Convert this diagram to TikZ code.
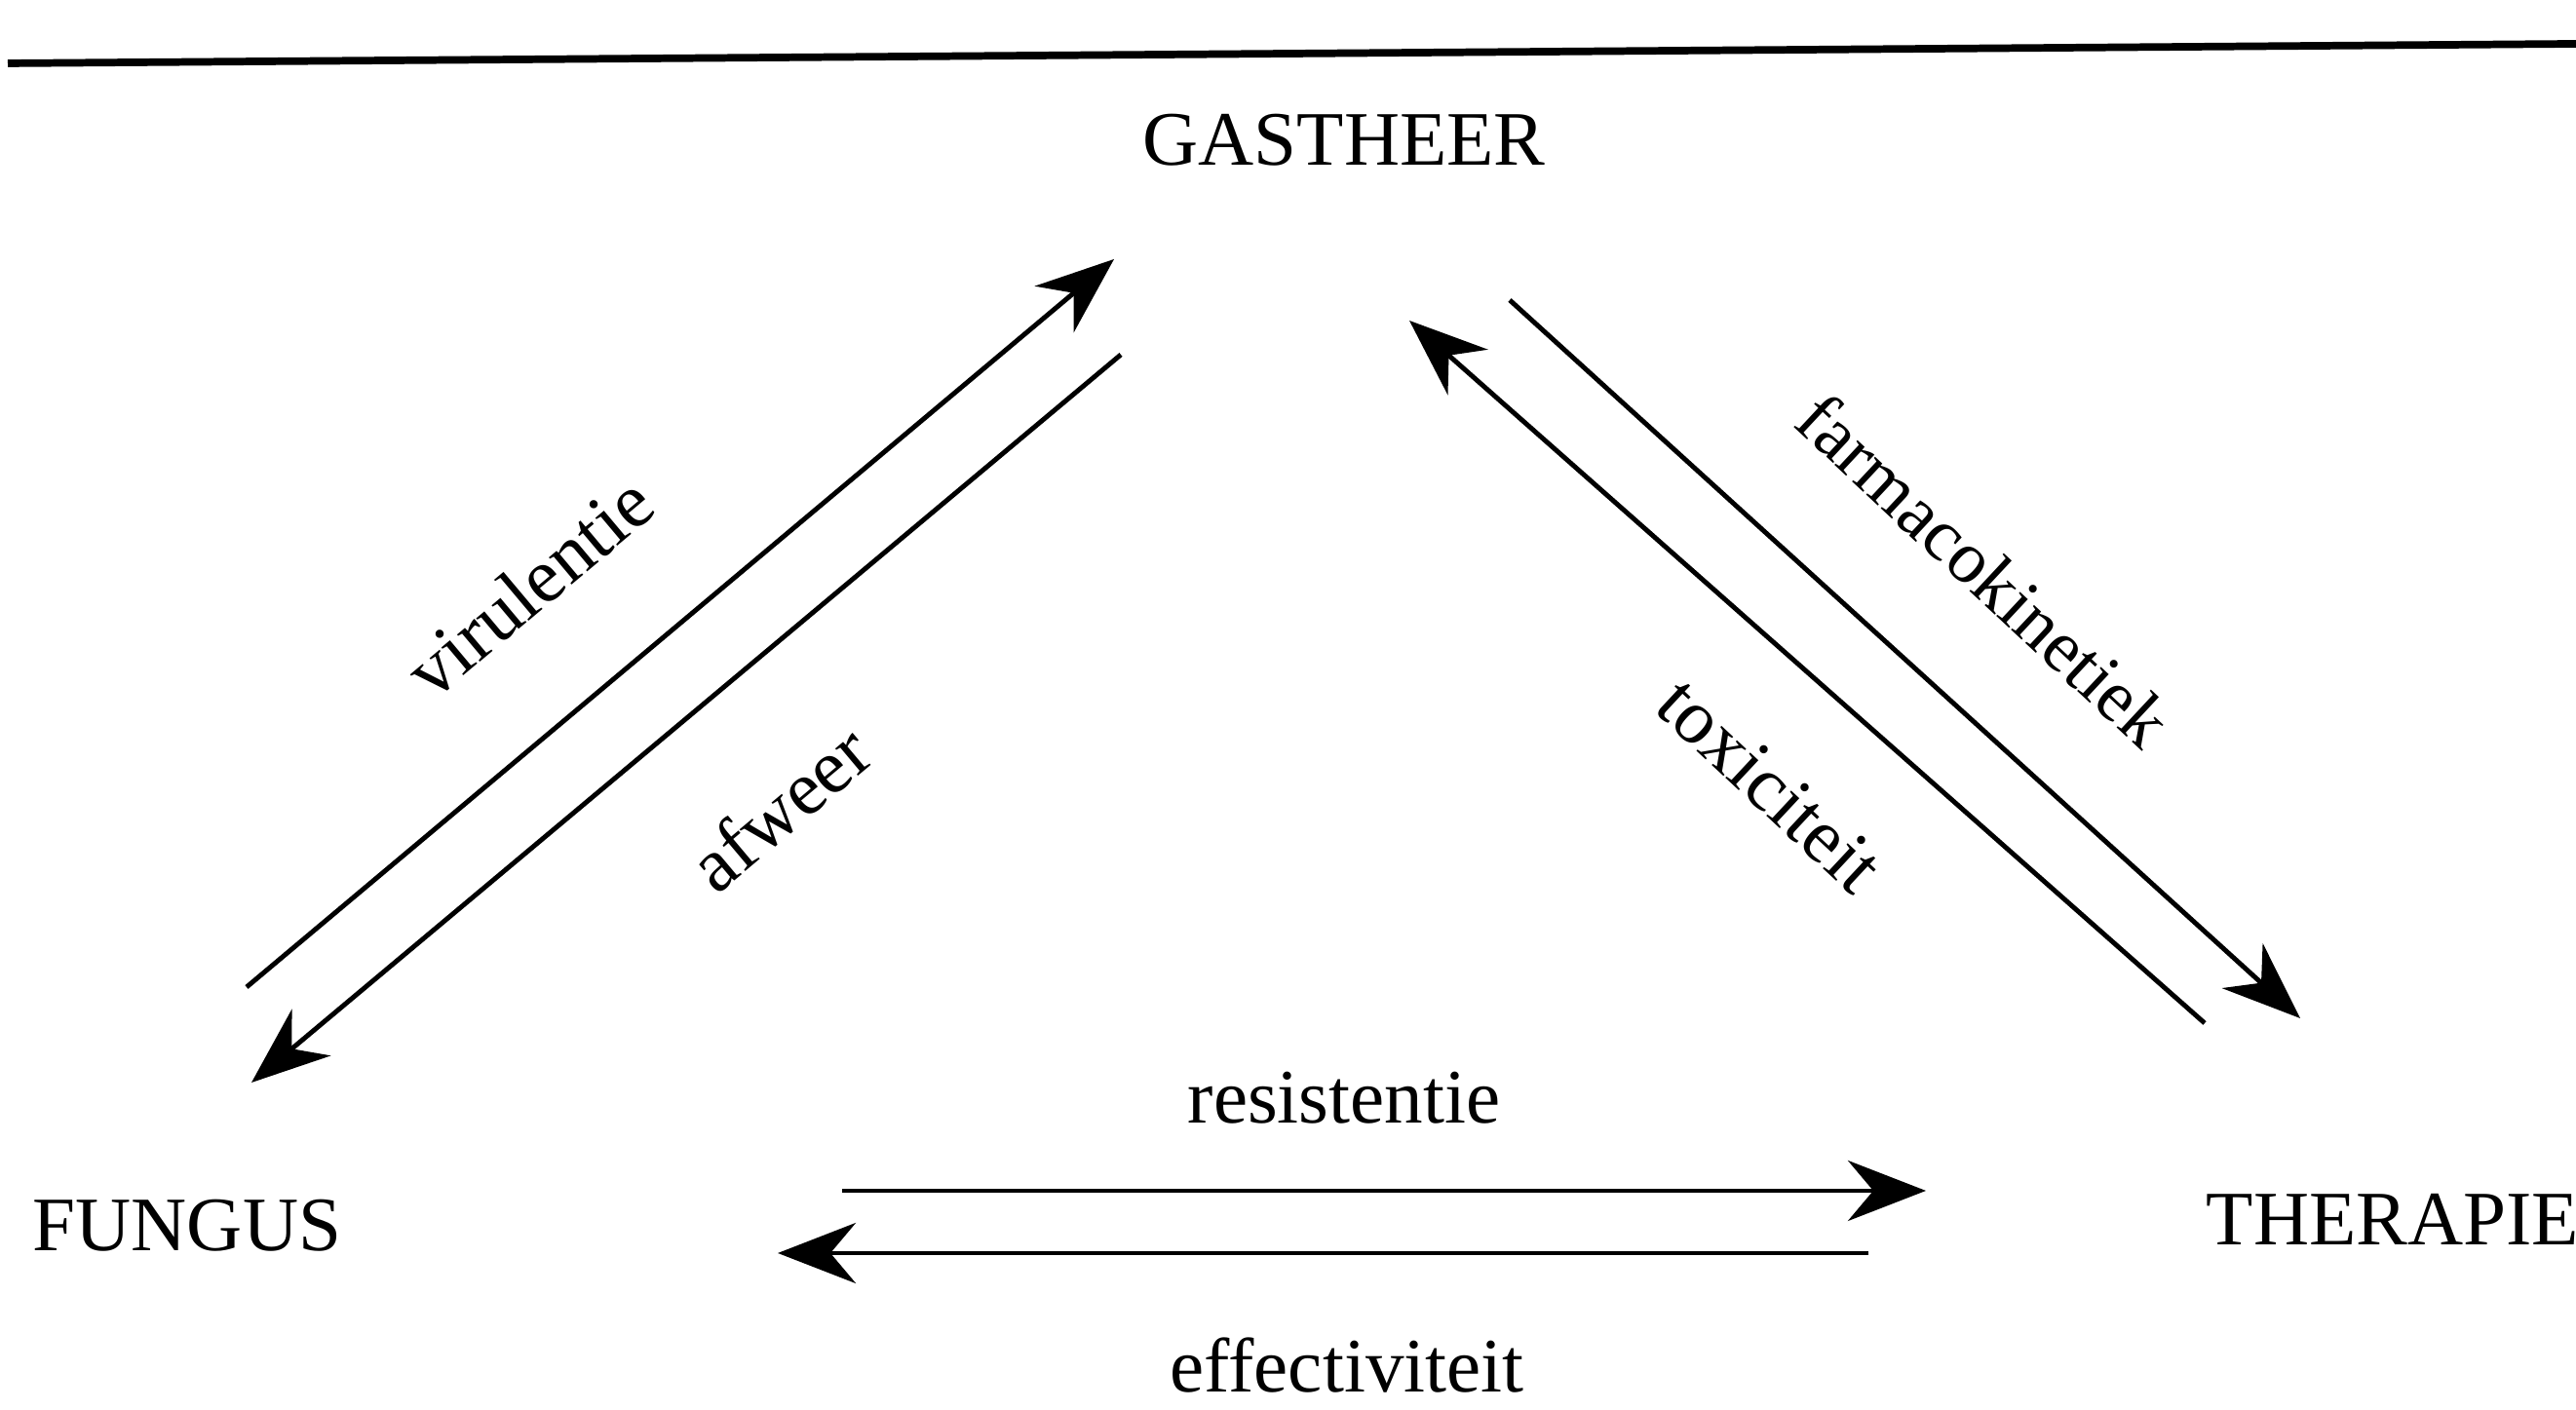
\documentclass[tikz,border=0pt]{standalone}
\usepackage{fontspec}
\setmainfont{Liberation Serif}
\usetikzlibrary{arrows.meta}

\tikzset{
  term/.style={anchor=base, font=\fontsize{22.5}{27}\selectfont},
  label/.style={font=\fontsize{22.5}{27}\selectfont},
  relation/.style={line width=1.4pt, -{Stealth[length=8mm, width=6.2mm, inset=2.6mm]}}
}

\begin{document}
\begin{tikzpicture}
  \useasboundingbox (0,0) rectangle (26.43,14.47);
  \draw[line width=2.2pt] (0.08,13.82) -- (26.43,14.02);

  % the three terms
  \node[term] (gastheer) at (13.79,12.77) {GASTHEER};
  \node[term] (fungus) at (1.92,1.63) {FUNGUS};
  \node[term] (therapie) at (24.55,1.69) {THERAPIE};

  % ends of the arrows
  \coordinate (vir-a) at (2.53,4.34);
  \coordinate (vir-b) at (11.43,11.81);
  \coordinate (afw-a) at (11.50,10.83);
  \coordinate (afw-b) at (2.58,3.36);
  \coordinate (far-a) at (15.49,11.39);
  \coordinate (far-b) at (23.60,4.02);
  \coordinate (tox-a) at (22.62,3.97);
  \coordinate (tox-b) at (14.46,11.18);
  \coordinate (res-a) at (8.64,2.25);
  \coordinate (res-b) at (19.76,2.25);
  \coordinate (eff-a) at (19.17,1.61);
  \coordinate (eff-b) at (7.98,1.61);

  \draw[relation] (vir-a) -- (vir-b);
  \draw[relation] (afw-a) -- (afw-b);
  \draw[relation] (far-a) -- (far-b);
  \draw[relation] (tox-a) -- (tox-b);
  \draw[relation] (res-a) -- (res-b);
  \draw[relation] (eff-a) -- (eff-b);

  \node[label, rotate=40] (virulentie) at (5.43,8.45) {virulentie};
  \node[label, rotate=40] (afweer) at (8.0,6.18) {afweer};
  \node[label, rotate=-43, font=\fontsize{21.5}{26}\selectfont] (farmaco) at (20.36,8.62) {farmacokinetiek};
  \node[label, rotate=-43] (toxiciteit) at (18.16,6.41) {toxiciteit};
  \node[term] (resistentie) at (13.79,2.94) {resistentie};
  \node[term] (effectiviteit) at (13.82,0.18) {effectiviteit};
\end{tikzpicture}
\end{document}
